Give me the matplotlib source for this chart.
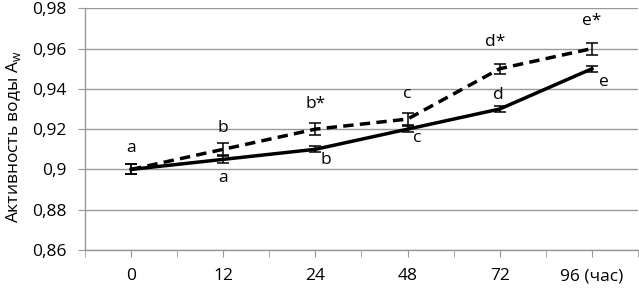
import matplotlib
matplotlib.use("Agg")
import matplotlib.pyplot as plt
from matplotlib.ticker import FuncFormatter, FixedLocator

plt.rcParams['font.family'] = ['Open Sans', 'DejaVu Sans']

categories = ['0', '12', '24', '48', '72', '96 (час)']
solid_vals = [0.900, 0.905, 0.910, 0.920, 0.930, 0.950]
solid_err = [0.0025, 0.0017, 0.0015, 0.0015, 0.0015, 0.0015]
dashed_vals = [0.900, 0.910, 0.920, 0.925, 0.950, 0.960]
dashed_err = [0.0025, 0.003, 0.003, 0.0028, 0.0025, 0.003]
dashed_labels = ['a', 'b', 'b*', 'c', 'd*', 'e*']
solid_labels = ['', 'a', 'b', 'c', 'd', 'e']

fig = plt.figure(figsize=(6.39, 2.88), dpi=100)
ax = fig.add_axes([85/639, 1 - 250/288, (638-85)/639, (250-8.3)/288])

x = list(range(len(categories)))
ax.errorbar(x, solid_vals, yerr=solid_err, color='black', lw=2.5, capsize=4,
            elinewidth=1.1, capthick=1.1, zorder=3)
ax.errorbar(x, dashed_vals, yerr=dashed_err, color='black', lw=2.5, ls=(0, (3, 1.8)),
            capsize=4, elinewidth=1.1, capthick=1.1, zorder=3)

# letter annotations
fs = 12.5
dashed_off = [(0, 0.0105), (0, 0.0105), (0, 0.0125), (0, 0.0125), (-0.05, 0.0135), (0, 0.0135)]
for i, (lab, (dx, dy)) in enumerate(zip(dashed_labels, dashed_off)):
    ax.text(x[i] + dx, dashed_vals[i] + dy, lab, ha='center', va='center', fontsize=fs)
solid_off = [None, (0, -0.0095), (0.11, -0.0055), (0.1, -0.0045), (-0.02, 0.0068), (0.13, -0.0065)]
for i, lab in enumerate(solid_labels):
    if not lab:
        continue
    dx, dy = solid_off[i]
    ax.text(x[i] + dx, solid_vals[i] + dy, lab, ha='center', va='center', fontsize=fs)

ax.set_xlim(-0.5, 5.5)
ax.set_ylim(0.86, 0.98)
ax.set_yticks([0.86, 0.88, 0.90, 0.92, 0.94, 0.96, 0.98])
ax.yaxis.set_major_formatter(FuncFormatter(
    lambda v, p: '0,9' if abs(v - 0.9) < 1e-9 else ('%.2f' % v).replace('.', ',')))
ax.set_xticks(x)
ax.set_xticklabels(categories)
ax.xaxis.set_minor_locator(FixedLocator([i - 0.5 for i in range(7)]))

ax.grid(axis='y', color='#999999', lw=1.0)
ax.set_axisbelow(True)
for s in ['top', 'right']:
    ax.spines[s].set_visible(False)
for s in ['left', 'bottom']:
    ax.spines[s].set_color('#999999')
    ax.spines[s].set_linewidth(1.0)

ax.tick_params(axis='y', length=5, color='#999999', labelsize=12.5, pad=8)
ax.tick_params(axis='x', which='both', length=5, color='#999999', labelsize=12.5, pad=8)

ax.set_ylabel('Активность воды A$_\\mathregular{w}$', fontsize=12.5)
ax.yaxis.set_label_coords(-0.113, 0.47)

fig.savefig('out.png', dpi=100)
